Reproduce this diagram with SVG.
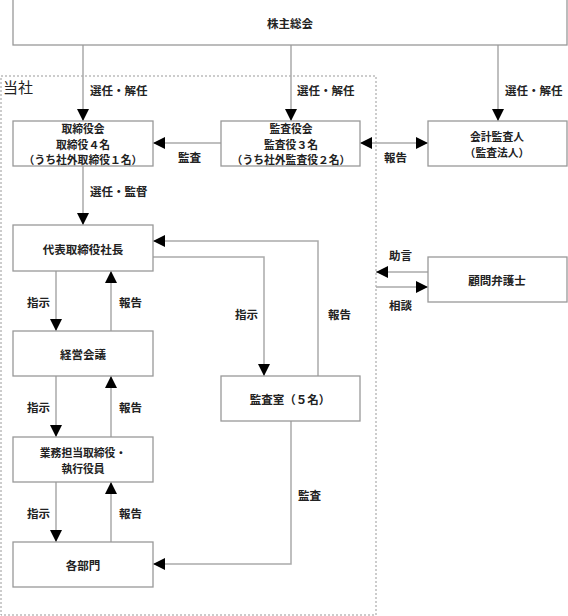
<svg xmlns="http://www.w3.org/2000/svg" width="568" height="616" viewBox="0 0 568 616">
<style>
.box{fill:#fff;stroke:#999;stroke-width:1.3}
.t{font-family:"Noto Sans CJK JP","Noto Sans",sans-serif;font-size:11.5px;font-weight:bold;fill:#222;text-anchor:middle;dominant-baseline:central}
.m{font-size:10.8px}
.lbl{font-family:"Noto Sans CJK JP","Noto Sans",sans-serif;font-size:11.5px;font-weight:bold;fill:#222;dominant-baseline:central}
.c{fill:none;stroke:#aaa;stroke-width:1.5}
</style>
<defs>
<marker id="ah" markerUnits="userSpaceOnUse" markerWidth="12" markerHeight="12" viewBox="0 0 12 12" refX="12" refY="6" orient="auto">
<path d="M0,0 L12,6 L0,12 Z" fill="#000"/>
</marker>
</defs>
<rect x="1" y="76" width="375" height="539" fill="none" stroke="#999" stroke-width="1" stroke-dasharray="2,2"/>
<text x="3" y="86" font-family="'Noto Sans CJK JP',sans-serif" font-size="15px" fill="#222" dominant-baseline="central">当社</text>
<g id="connectors">
<path class="c" d="M83,45 V121" marker-end="url(#ah)"/>
<path class="c" d="M291,45 V121" marker-end="url(#ah)"/>
<path class="c" d="M498,45 V121" marker-end="url(#ah)"/>
<path class="c" d="M221,143 H153" marker-end="url(#ah)"/>
<path class="c" d="M394,143 H360" marker-end="url(#ah)"/>
<path class="c" d="M394,143 H428" marker-end="url(#ah)"/>
<path class="c" d="M83,166 V225" marker-end="url(#ah)"/>
<path class="c" d="M153,257 H264 V376" marker-end="url(#ah)"/>
<path class="c" d="M318,376 V241 H153" marker-end="url(#ah)"/>
<path class="c" d="M291,421 V564 H153" marker-end="url(#ah)"/>
<path class="c" d="M428,272 H376" marker-end="url(#ah)"/>
<path class="c" d="M376,287 H428" marker-end="url(#ah)"/>
<path class="c" d="M56,271 V331" marker-end="url(#ah)"/>
<path class="c" d="M111,331 V271" marker-end="url(#ah)"/>
<path class="c" d="M56,376 V437" marker-end="url(#ah)"/>
<path class="c" d="M111,437 V376" marker-end="url(#ah)"/>
<path class="c" d="M56,482 V542" marker-end="url(#ah)"/>
<path class="c" d="M111,542 V482" marker-end="url(#ah)"/>
<text class="lbl" x="90" y="90">選任・解任</text>
<text class="lbl" x="297" y="90">選任・解任</text>
<text class="lbl" x="505" y="90">選任・解任</text>
<text class="lbl" x="178" y="157">監査</text>
<text class="lbl" x="384" y="157">報告</text>
<text class="lbl" x="90" y="191">選任・監督</text>
<text class="lbl" x="235" y="314">指示</text>
<text class="lbl" x="328" y="314">報告</text>
<text class="lbl" x="298" y="495">監査</text>
<text class="lbl" x="389" y="255">助言</text>
<text class="lbl" x="389" y="305">相談</text>
<text class="lbl" x="27" y="302">指示</text>
<text class="lbl" x="119" y="302">報告</text>
<text class="lbl" x="27" y="407">指示</text>
<text class="lbl" x="119" y="407">報告</text>
<text class="lbl" x="27" y="513">指示</text>
<text class="lbl" x="119" y="513">報告</text>
</g>
<g id="n-shareholders"><rect class="box" x="13" y="-1" width="554" height="46"/><text class="t" x="290" y="23">株主総会</text></g>
<g id="n-board"><rect class="box" x="13" y="121" width="140" height="45"/><text class="t m" x="83" y="128">取締役会</text><text class="t m" x="83" y="143.5">取締役４名</text><text class="t m" x="83" y="159">（うち社外取締役１名）</text></g>
<g id="n-auditors"><rect class="box" x="221" y="121" width="139" height="45"/><text class="t m" x="291" y="128">監査役会</text><text class="t m" x="291" y="143.5">監査役３名</text><text class="t m" x="291" y="159">（うち社外監査役２名）</text></g>
<g id="n-accounting"><rect class="box" x="428" y="121" width="139" height="45"/><text class="t m" x="497" y="136">会計監査人</text><text class="t m" x="497" y="152">（監査法人）</text></g>
<g id="n-president"><rect class="box" x="13" y="225" width="140" height="46"/><text class="t" x="83" y="249">代表取締役社長</text></g>
<g id="n-mgmt"><rect class="box" x="13" y="331" width="140" height="45"/><text class="t" x="83" y="354">経営会議</text></g>
<g id="n-exec"><rect class="box" x="13" y="437" width="140" height="45"/><text class="t m" x="83" y="452">業務担当取締役・</text><text class="t m" x="83" y="468">執行役員</text></g>
<g id="n-depts"><rect class="box" x="13" y="542" width="140" height="45"/><text class="t" x="83" y="565">各部門</text></g>
<g id="n-auditroom"><rect class="box" x="221" y="376" width="139" height="45"/><text class="t" x="290" y="399">監査室（５名）</text></g>
<g id="n-lawyer"><rect class="box" x="428" y="257" width="139" height="45"/><text class="t" x="497" y="280">顧問弁護士</text></g>
</svg>
